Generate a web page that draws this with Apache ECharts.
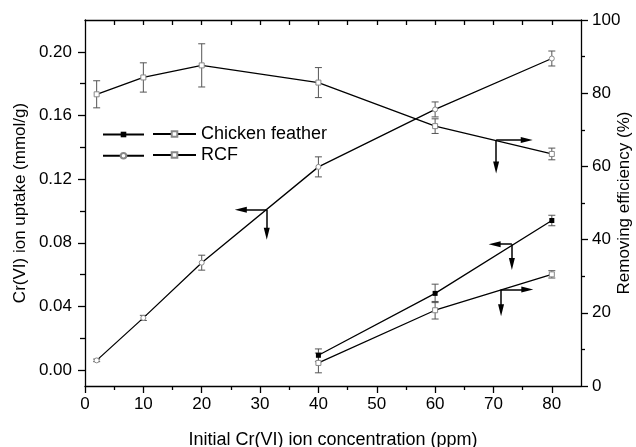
<!DOCTYPE html>
<html>
<head>
<meta charset="utf-8">
<script src="https://cdn.jsdelivr.net/npm/echarts@6/dist/echarts.min.js"></script>
<style>
  html, body { margin: 0; padding: 0; background: #fff; }
  #chart { width: 636px; height: 447px; }
</style>
</head>
<body>
<div id="chart"></div>
<script>
  // concentrations (ppm)
  var concCF = [40, 60, 80];
  var concRCF = [2, 10, 20, 40, 60, 80];

  // uptake (mmol/g), left axis
  var cfUptake = [0.0093, 0.0482, 0.0940];
  var cfUptakeErr = [0.0040, 0.0058, 0.0033];
  var rcfUptake = [0.0061, 0.0328, 0.0675, 0.1277, 0.1638, 0.1958];
  var rcfUptakeErr = [0.0008, 0.0016, 0.0047, 0.0063, 0.0047, 0.0047];

  // removing efficiency (%), right axis
  var cfEff = [6.3, 20.7, 30.5];
  var cfEffErr = [2.7, 2.4, 1.0];
  var rcfEff = [79.7, 84.3, 87.6, 82.9, 71.0, 63.4];
  var rcfEffErr = [3.7, 4.0, 5.9, 4.1, 2.0, 1.6];

  // tick values
  var xMajor = [0, 10, 20, 30, 40, 50, 60, 70, 80];
  var xMinor = [5, 15, 25, 35, 45, 55, 65, 75];
  var xTop = [5, 10, 15, 20, 25, 30, 35, 40, 45, 50, 55, 60, 65, 70, 75, 80];
  var leftMajor = [0, 0.04, 0.08, 0.12, 0.16, 0.20];
  var leftMinor = [0.02, 0.06, 0.10, 0.14, 0.18];

  // arrows: [x, y, x end of horizontal part, y end of vertical part]
  var arrowsLeft = [[31.15, 0.1008, 26.7, 0.0856], [73.15, 0.0791, 70.2, 0.0667]];
  var arrowsRight = [[70.46, 67.2, 75.7, 59.7], [71.3, 26.4, 75.8, 20.7]];

  var font = 'Liberation Sans, Arial, Helvetica, sans-serif';
  var gridBox = { left: 85, right: 55, top: 20, bottom: 61, outerBoundsMode: 'none' };

  function pairs(xs, ys) {
    return xs.map(function (x, i) { return [x, ys[i]]; });
  }
  function errRows(xs, ys, es) {
    return xs.map(function (x, i) { return [x, ys[i] - es[i], ys[i] + es[i]]; });
  }
  function arrowLines(list) {
    var out = [];
    list.forEach(function (a) {
      out.push([{ coord: [a[0], a[1]] }, { coord: [a[2], a[1]] }]);
      out.push([{ coord: [a[0], a[1]] }, { coord: [a[0], a[3]] }]);
    });
    return out;
  }
  function arrowMark(list) {
    return {
      silent: true,
      animation: false,
      symbol: ['none', 'triangle'],
      symbolSize: [6, 12],
      label: { show: false },
      emphasis: { disabled: true },
      lineStyle: { color: '#000', width: 1.5, type: 'solid' },
      data: arrowLines(list)
    };
  }
  function errorBar(params, api) {
    var x = api.value(0);
    var lo = api.coord([x, api.value(1)]);
    var hi = api.coord([x, api.value(2)]);
    var w = 3.5;
    var st = { stroke: '#555', lineWidth: 1 };
    return {
      type: 'group',
      children: [
        { type: 'line', shape: { x1: lo[0], y1: lo[1], x2: hi[0], y2: hi[1] }, style: st },
        { type: 'line', shape: { x1: lo[0] - w, y1: lo[1], x2: lo[0] + w, y2: lo[1] }, style: st },
        { type: 'line', shape: { x1: hi[0] - w, y1: hi[1], x2: hi[0] + w, y2: hi[1] }, style: st }
      ]
    };
  }
  function errSeries(data, yIdx) {
    return {
      type: 'custom',
      xAxisIndex: 0,
      yAxisIndex: yIdx,
      renderItem: errorBar,
      encode: { x: 0, y: [1, 2] },
      data: data,
      silent: true,
      z: 1
    };
  }

  var lineStyle = { color: '#000', width: 1.3 };
  var openStyle = { color: '#fff', borderColor: '#888', borderWidth: 1 };
  var tickLine = { color: '#000', width: 1.3 };
  var axisLine = { onZero: false, lineStyle: tickLine };
  var noLine = { show: false, onZero: false };
  var legendText = { fontSize: 18, color: '#000', fontFamily: font };

  var myChart = echarts.init(document.getElementById('chart'));
  myChart.setOption({
    animation: false,
    textStyle: { fontFamily: font },
    // second grid, same box, only carries the minor ticks
    grid: [gridBox, gridBox],
    legend: [
      { data: ['Chicken feather uptake'], left: 102, top: 131, padding: 0, itemWidth: 41, itemHeight: 7,
        formatter: function () { return ''; }, selectedMode: false },
      { data: ['Chicken feather'], left: 152, top: 125, padding: 0, itemWidth: 43, itemHeight: 7,
        textStyle: legendText, selectedMode: false },
      { data: ['RCF uptake'], left: 102, top: 152, padding: 0, itemWidth: 41, itemHeight: 7,
        formatter: function () { return ''; }, selectedMode: false },
      { data: ['RCF'], left: 152, top: 146, padding: 0, itemWidth: 43, itemHeight: 7,
        textStyle: legendText, selectedMode: false }
    ],
    xAxis: [
      {
        type: 'value', gridIndex: 0, position: 'bottom', min: 0, max: 85,
        name: 'Initial Cr(VI) ion concentration (ppm)', nameLocation: 'middle', nameGap: 45,
        nameMoveOverlap: false,
        nameTextStyle: { fontSize: 18, color: '#000', fontFamily: font },
        axisLine: axisLine,
        axisTick: { customValues: xMajor, length: 7, lineStyle: tickLine },
        axisLabel: { customValues: xMajor, fontSize: 17, color: '#000', margin: 10, fontFamily: font },
        splitLine: { show: false }
      },
      {
        type: 'value', gridIndex: 0, position: 'top', min: 0, max: 85,
        axisLine: axisLine,
        axisTick: { inside: true, customValues: xTop, length: 5, lineStyle: tickLine },
        axisLabel: { show: false },
        splitLine: { show: false }
      },
      {
        type: 'value', gridIndex: 1, position: 'bottom', min: 0, max: 85,
        axisLine: noLine,
        axisTick: { customValues: xMinor, length: 4, lineStyle: tickLine },
        axisLabel: { show: false },
        splitLine: { show: false }
      }
    ],
    yAxis: [
      {
        type: 'value', gridIndex: 0, position: 'left', min: -0.01, max: 0.22,
        name: 'Cr(VI) ion uptake (mmol/g)', nameLocation: 'middle', nameGap: 56,
        nameMoveOverlap: false,
        nameTextStyle: { fontSize: 17, color: '#000', fontFamily: font },
        axisLine: axisLine,
        axisTick: { customValues: leftMajor, length: 7, lineStyle: tickLine },
        axisLabel: {
          customValues: leftMajor, fontSize: 17, color: '#000', margin: 13, fontFamily: font,
          formatter: function (v) { return v.toFixed(2); }
        },
        splitLine: { show: false }
      },
      {
        type: 'value', gridIndex: 0, position: 'right', min: 0, max: 100, interval: 20,
        name: 'Removing efficiency (%)', nameLocation: 'middle', nameGap: 35,
        nameMoveOverlap: false,
        nameTextStyle: { fontSize: 17, color: '#000', fontFamily: font },
        axisLine: axisLine,
        axisTick: { length: 7, lineStyle: tickLine },
        minorTick: { show: true, splitNumber: 2, length: 4, lineStyle: tickLine },
        axisLabel: { fontSize: 17, color: '#000', margin: 11, fontFamily: font },
        splitLine: { show: false },
        minorSplitLine: { show: false }
      },
      {
        type: 'value', gridIndex: 1, position: 'left', min: -0.01, max: 0.22,
        axisLine: noLine,
        axisTick: { customValues: leftMinor, length: 5, lineStyle: tickLine },
        axisLabel: { show: false },
        splitLine: { show: false }
      }
    ],
    series: [
      errSeries(errRows(concCF, cfUptake, cfUptakeErr), 0),
      errSeries(errRows(concRCF, rcfUptake, rcfUptakeErr), 0),
      errSeries(errRows(concCF, cfEff, cfEffErr), 1),
      errSeries(errRows(concRCF, rcfEff, rcfEffErr), 1),
      {
        name: 'Chicken feather uptake', type: 'line', xAxisIndex: 0, yAxisIndex: 0,
        data: pairs(concCF, cfUptake), symbol: 'rect', symbolSize: 5, showAllSymbol: true,
        itemStyle: { color: '#000' }, lineStyle: lineStyle, z: 3,
        markLine: arrowMark([arrowsLeft[1]])
      },
      {
        name: 'RCF uptake', type: 'line', xAxisIndex: 0, yAxisIndex: 0,
        data: pairs(concRCF, rcfUptake), symbol: 'circle', symbolSize: 5, showAllSymbol: true,
        itemStyle: openStyle, lineStyle: lineStyle, z: 3,
        markLine: arrowMark([arrowsLeft[0]])
      },
      {
        name: 'Chicken feather', type: 'line', xAxisIndex: 0, yAxisIndex: 1,
        data: pairs(concCF, cfEff), symbol: 'rect', symbolSize: 5, showAllSymbol: true,
        itemStyle: openStyle, lineStyle: lineStyle, z: 3,
        markLine: arrowMark([arrowsRight[1]])
      },
      {
        name: 'RCF', type: 'line', xAxisIndex: 0, yAxisIndex: 1,
        data: pairs(concRCF, rcfEff), symbol: 'rect', symbolSize: 5, showAllSymbol: true,
        itemStyle: openStyle, lineStyle: lineStyle, z: 3,
        markLine: arrowMark([arrowsRight[0]])
      }
    ]
  });
</script>
</body>
</html>
